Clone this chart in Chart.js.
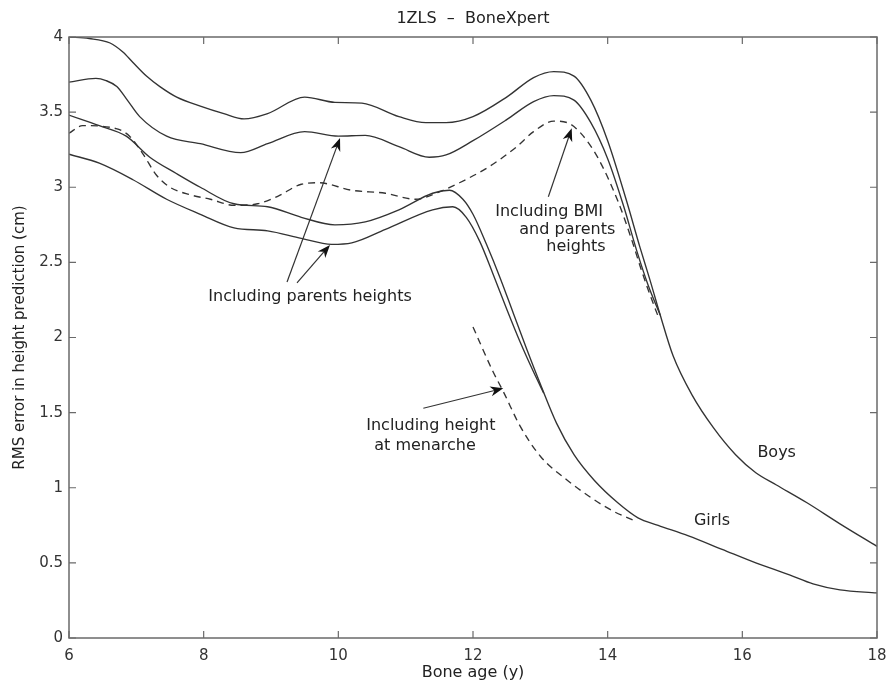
<!DOCTYPE html>
<html><head><meta charset="utf-8">
<script src="https://cdn.jsdelivr.net/npm/chart.js@4/dist/chart.umd.min.js"></script>
<style>html,body{margin:0;padding:0;background:#fff}#wrap{width:891px;height:687px;position:relative}</style>
</head><body><div id="wrap"><canvas id="c"></canvas></div>
<script>
// ---- tick values ----
const xTickValues = [6, 8, 10, 12, 14, 16, 18];
const yTickValues = [0, 0.5, 1, 1.5, 2, 2.5, 3, 3.5, 4];

// ---- series (bone age in years, RMS error in cm) ----
const boysAges = [6.0, 6.3, 6.61, 6.8, 6.95, 7.15, 7.35, 7.6, 7.95, 8.3, 8.6, 8.95, 9.5, 9.95, 10.35, 10.9, 11.3, 11.6, 12.0, 12.5, 12.9, 13.2, 13.5, 13.75, 14.0, 14.28, 14.48, 14.63, 14.78, 14.97, 15.25, 15.57, 15.9, 16.2, 16.5, 16.96, 17.45, 18.0];
const boysRms  = [4.00, 3.99, 3.96, 3.90, 3.83, 3.74, 3.67, 3.60, 3.54, 3.49, 3.455, 3.49, 3.60, 3.565, 3.56, 3.47, 3.43, 3.43, 3.47, 3.60, 3.73, 3.77, 3.74, 3.58, 3.31, 2.91, 2.60, 2.38, 2.15, 1.88, 1.62, 1.40, 1.22, 1.10, 1.02, 0.90, 0.76, 0.61];

const boysParentsAges = [6.0, 6.4, 6.55, 6.71, 6.85, 7.05, 7.45, 7.95, 8.55, 8.95, 9.5, 10.0, 10.4, 10.9, 11.35, 11.6, 12.0, 12.5, 12.9, 13.2, 13.5, 13.75, 14.0, 14.24, 14.43, 14.6, 14.78];
const boysParentsRms  = [3.70, 3.725, 3.71, 3.67, 3.59, 3.47, 3.34, 3.29, 3.23, 3.29, 3.37, 3.34, 3.345, 3.27, 3.20, 3.215, 3.31, 3.45, 3.57, 3.61, 3.58, 3.43, 3.19, 2.87, 2.58, 2.35, 2.15];

const boysBmiAges = [6.0, 6.2, 6.7, 6.9, 7.1, 7.3, 7.5, 7.8, 8.1, 8.45, 8.8, 9.1, 9.45, 9.7, 10.2, 10.7, 11.15, 11.5, 11.8, 12.25, 12.65, 12.9, 13.2, 13.4, 13.6, 13.85, 14.15, 14.35, 14.5, 14.6, 14.75];
const boysBmiRms  = [3.36, 3.41, 3.39, 3.34, 3.22, 3.08, 3.00, 2.95, 2.92, 2.88, 2.89, 2.94, 3.02, 3.03, 2.98, 2.96, 2.92, 2.97, 3.03, 3.14, 3.27, 3.37, 3.44, 3.43, 3.36, 3.20, 2.91, 2.66, 2.45, 2.32, 2.14];

const girlsAges = [6.0, 6.45, 6.85, 7.2, 7.6, 7.95, 8.45, 8.95, 9.45, 9.95, 10.4, 10.9, 11.4, 11.65, 11.85, 12.0, 12.2, 12.4, 12.6, 12.8, 13.0, 13.24, 13.5, 13.8, 14.15, 14.45, 14.75, 15.2, 15.7, 16.2, 16.7, 17.05, 17.45, 18.0];
const girlsRms  = [3.48, 3.41, 3.34, 3.20, 3.09, 3.00, 2.89, 2.87, 2.80, 2.75, 2.77, 2.85, 2.96, 2.98, 2.92, 2.82, 2.62, 2.40, 2.16, 1.92, 1.69, 1.43, 1.22, 1.05, 0.90, 0.80, 0.75, 0.68, 0.59, 0.50, 0.42, 0.36, 0.32, 0.30];

const girlsParentsAges = [6.0, 6.45, 6.95, 7.45, 7.95, 8.45, 8.95, 9.45, 9.9, 10.2, 10.7, 11.4, 11.7, 11.9, 12.1, 12.3, 12.5, 12.7, 12.9, 13.05];
const girlsParentsRms  = [3.22, 3.16, 3.05, 2.92, 2.82, 2.73, 2.71, 2.66, 2.62, 2.63, 2.72, 2.85, 2.87, 2.80, 2.64, 2.42, 2.19, 1.97, 1.77, 1.63];

const girlsMenarcheAges = [12.0, 12.3, 12.45, 12.7, 13.0, 13.4, 13.8, 14.1, 14.4];
const girlsMenarcheRms  = [2.07, 1.77, 1.64, 1.41, 1.21, 1.05, 0.92, 0.84, 0.78];

function pts(xs, ys) { return xs.map((x, i) => ({ x: x, y: ys[i] })); }

const FONT = '"DejaVu Sans", Arial, sans-serif';
const LINE = '#333';

function ds(label, xs, ys, dashed) {
  return {
    label: label,
    data: pts(xs, ys),
    borderColor: LINE,
    borderWidth: 1.35,
    borderDash: dashed ? [7, 5] : [],
    pointRadius: 0,
    fill: false,
    tension: 0.4,
    cubicInterpolationMode: 'monotone'
  };
}

// annotations (positions in data units)
const notes = [
  { text: 'Including parents heights', x: 9.58, y: 2.27 },
  { text: 'Including BMI', x: 13.13, y: 2.837 },
  { text: 'and parents', x: 13.40, y: 2.716 },
  { text: 'heights', x: 13.53, y: 2.604 },
  { text: 'Including height', x: 11.374, y: 1.411 },
  { text: 'at menarche', x: 11.287, y: 1.28 },
  { text: 'Boys', x: 16.51, y: 1.233 },
  { text: 'Girls', x: 15.55, y: 0.781 }
];
const arrows = [
  { x0: 9.238, y0: 2.369, x1: 10.025, y1: 3.328 },
  { x0: 9.386, y0: 2.363, x1: 9.876, y1: 2.616 },
  { x0: 13.119, y0: 2.937, x1: 13.466, y1: 3.392 },
  { x0: 11.262, y0: 1.529, x1: 12.45, y1: 1.662 }
];

const decor = {
  id: 'decor',
  beforeDraw(chart) {
    const ctx = chart.ctx;
    ctx.save();
    ctx.fillStyle = '#fff';
    ctx.fillRect(0, 0, chart.width, chart.height);
    ctx.restore();
  },
  afterDraw(chart) {
    const ctx = chart.ctx, a = chart.chartArea;
    const xs = chart.scales.x, ys = chart.scales.y;
    ctx.save();
    // frame
    ctx.strokeStyle = '#6a6a6a';
    ctx.lineWidth = 1.5;
    ctx.strokeRect(a.left, a.top, a.right - a.left, a.bottom - a.top);
    // inward ticks on all sides
    ctx.lineWidth = 1.2;
    const TL = 7;
    ctx.beginPath();
    xTickValues.forEach(v => {
      const px = xs.getPixelForValue(v);
      ctx.moveTo(px, a.bottom); ctx.lineTo(px, a.bottom - TL);
      ctx.moveTo(px, a.top); ctx.lineTo(px, a.top + TL);
    });
    yTickValues.forEach(v => {
      const py = ys.getPixelForValue(v);
      ctx.moveTo(a.left, py); ctx.lineTo(a.left + TL, py);
      ctx.moveTo(a.right, py); ctx.lineTo(a.right - TL, py);
    });
    ctx.stroke();

    // titles
    ctx.fillStyle = '#222';
    ctx.textAlign = 'center';
    ctx.textBaseline = 'middle';
    ctx.font = '16px ' + FONT;
    ctx.fillText('1ZLS  \u2013  BoneXpert', (a.left + a.right) / 2, 19);
    ctx.fillText('Bone age (y)', (a.left + a.right) / 2, 673);
    ctx.save();
    ctx.translate(20, (a.top + a.bottom) / 2);
    ctx.rotate(-Math.PI / 2);
    ctx.font = '15px ' + FONT;
    ctx.fillText('RMS error in height prediction (cm)', 0, 0);
    ctx.restore();

    // annotation texts
    ctx.font = '16px ' + FONT;
    notes.forEach(n => {
      ctx.fillText(n.text, xs.getPixelForValue(n.x), ys.getPixelForValue(n.y));
    });

    // arrows
    ctx.strokeStyle = '#333';
    ctx.fillStyle = '#111';
    ctx.lineWidth = 1.2;
    arrows.forEach(r => {
      const x0 = xs.getPixelForValue(r.x0), y0 = ys.getPixelForValue(r.y0);
      const x1 = xs.getPixelForValue(r.x1), y1 = ys.getPixelForValue(r.y1);
      const ang = Math.atan2(y1 - y0, x1 - x0);
      const L = 13, W = 5;
      ctx.beginPath();
      ctx.moveTo(x0, y0);
      ctx.lineTo(x1 - Math.cos(ang) * 6, y1 - Math.sin(ang) * 6);
      ctx.stroke();
      const bx = x1 - Math.cos(ang) * L, by = y1 - Math.sin(ang) * L;
      const nx = x1 - Math.cos(ang) * (L * 0.7), ny = y1 - Math.sin(ang) * (L * 0.7);
      const px = -Math.sin(ang), py = Math.cos(ang);
      ctx.beginPath();
      ctx.moveTo(x1, y1);
      ctx.lineTo(bx + px * W, by + py * W);
      ctx.lineTo(nx, ny);
      ctx.lineTo(bx - px * W, by - py * W);
      ctx.closePath();
      ctx.fill();
    });
    ctx.restore();
  }
};

new Chart(document.getElementById('c'), {
  type: 'line',
  data: {
    datasets: [
      ds('Boys', boysAges, boysRms, false),
      ds('Boys, including parents heights', boysParentsAges, boysParentsRms, false),
      ds('Boys, including BMI and parents heights', boysBmiAges, boysBmiRms, true),
      ds('Girls', girlsAges, girlsRms, false),
      ds('Girls, including parents heights', girlsParentsAges, girlsParentsRms, false),
      ds('Girls, including height at menarche', girlsMenarcheAges, girlsMenarcheRms, true)
    ]
  },
  options: {
    responsive: true,
    maintainAspectRatio: false,
    animation: false,
    layout: { padding: { top: 37, right: 14, left: 0, bottom: 0 } },
    plugins: { legend: { display: false }, tooltip: { enabled: false }, title: { display: false } },
    scales: {
      x: {
        type: 'linear', min: 6, max: 18,
        afterBuildTicks: s => { s.ticks = xTickValues.map(v => ({ value: v })); },
        afterFit: s => { s.height = 49; s.paddingRight = 0; s.paddingLeft = 0; },
        grid: { display: false, drawTicks: false },
        border: { display: false },
        ticks: { padding: 9, maxRotation: 0, autoSkip: false, color: '#333', font: { family: FONT, size: 15 },
                 callback: v => String(v) }
      },
      y: {
        type: 'linear', min: 0, max: 4,
        afterBuildTicks: s => { s.ticks = yTickValues.map(v => ({ value: v })); },
        afterFit: s => { s.width = 69; s.paddingTop = 0; s.paddingBottom = 0; },
        grid: { display: false, drawTicks: false },
        border: { display: false },
        ticks: { padding: 6, autoSkip: false, color: '#333', font: { family: FONT, size: 15 },
                 callback: v => String(Math.round(v * 10) / 10) }
      }
    }
  },
  plugins: [decor]
});
</script>
</body></html>
